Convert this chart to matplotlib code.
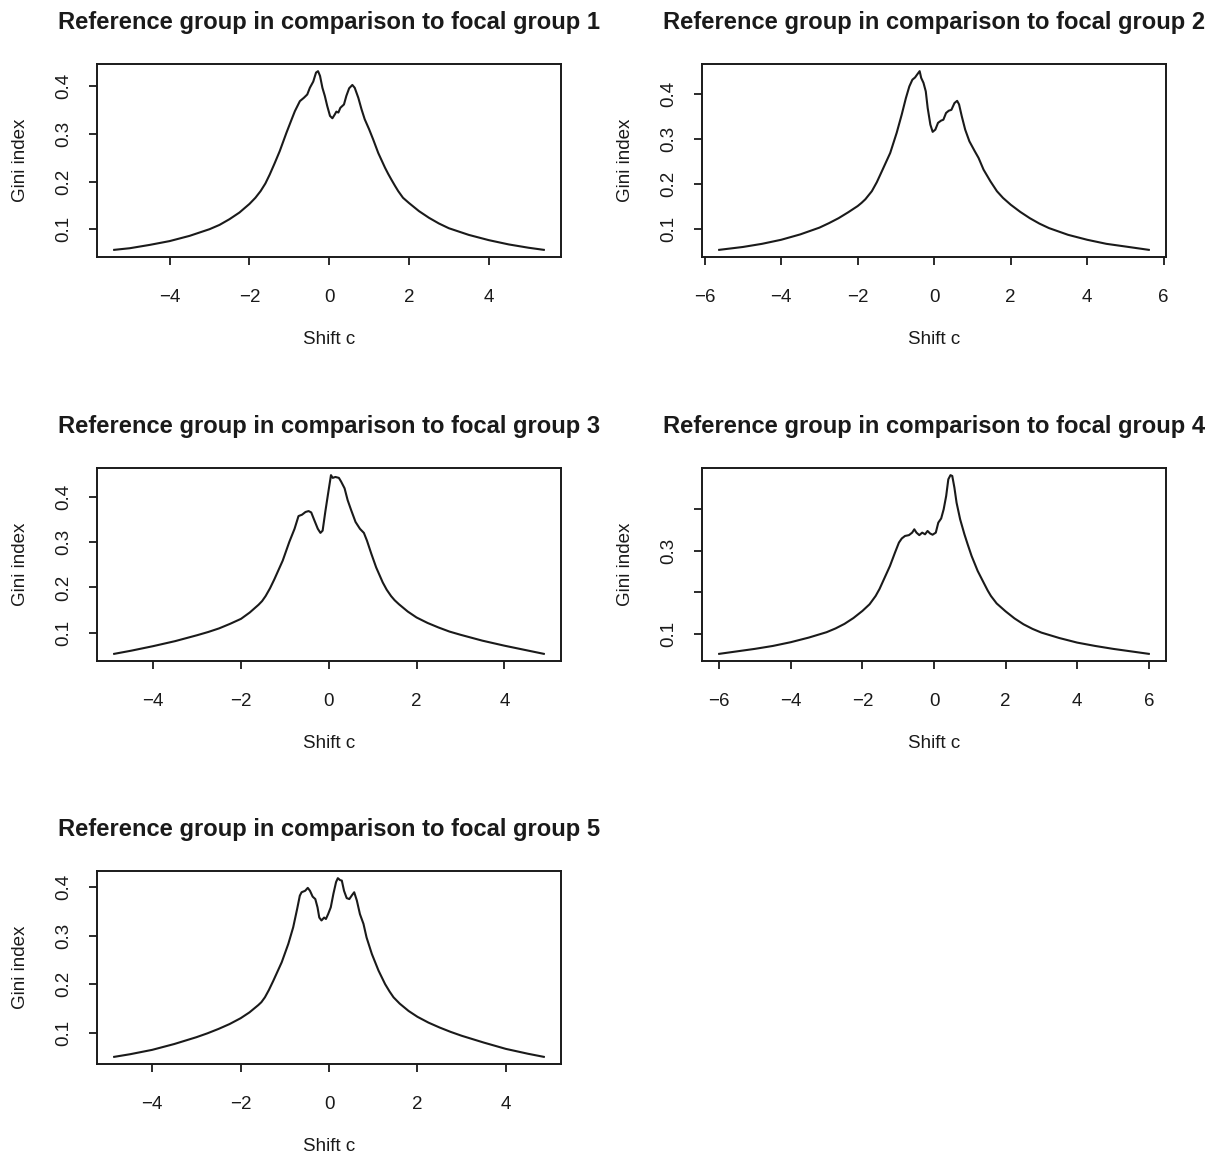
import numpy as np
import matplotlib
matplotlib.use("Agg")
import matplotlib.pyplot as plt

plt.rcParams["font.family"] = ["Liberation Sans", "DejaVu Sans"]

# Gini index against shift c, one curve per focal group
x1 = [-5.39, -5.0, -4.5, -4.0, -3.5, -3.0, -2.75, -2.5, -2.25, -2.0, -1.85, -1.72, -1.6,
      -1.49, -1.37, -1.24, -1.07, -0.94, -0.86, -0.735, -0.635, -0.55, -0.485, -0.40, -0.33,
      -0.28, -0.23, -0.17, -0.11, -0.05, 0.02, 0.08, 0.14, 0.18, 0.23, 0.28, 0.37,
      0.43, 0.50, 0.58, 0.64, 0.73, 0.81, 0.89, 1.00, 1.10, 1.23, 1.40, 1.48, 1.56, 1.65, 1.73,
      1.85, 2.0, 2.25, 2.5, 2.75, 3.0, 3.5, 4.0, 4.5, 5.0, 5.38]
y1 = [0.0566, 0.060, 0.067, 0.075, 0.086, 0.100, 0.109, 0.121, 0.135, 0.153, 0.166, 0.180, 0.196,
      0.215, 0.238, 0.264, 0.303, 0.331, 0.348, 0.369, 0.376, 0.383, 0.397, 0.410, 0.429,
      0.432, 0.422, 0.397, 0.380, 0.359, 0.338, 0.333, 0.341, 0.347, 0.345, 0.355, 0.362,
      0.380, 0.396, 0.403, 0.397, 0.376, 0.352, 0.331, 0.310, 0.289, 0.260, 0.229, 0.216, 0.204, 0.191, 0.180,
      0.166, 0.155, 0.138, 0.124, 0.112, 0.102, 0.088, 0.077, 0.068, 0.061, 0.0566]

x2 = [-5.62, -5.0, -4.5, -4.0, -3.5, -3.0, -2.75, -2.5, -2.25, -2.0, -1.9, -1.8, -1.63, -1.5,
      -1.37, -1.15, -0.98, -0.85, -0.74, -0.65, -0.57, -0.50, -0.45, -0.38, -0.34,
      -0.28, -0.22, -0.17, -0.10, -0.04, 0.03, 0.10, 0.18, 0.24, 0.31, 0.38, 0.45,
      0.53, 0.60, 0.65, 0.72, 0.81, 0.92, 1.06, 1.16, 1.29, 1.47, 1.64,
      1.8, 2.0, 2.25, 2.5, 2.75, 3.0, 3.5, 4.0, 4.5, 5.0, 5.61]
y2 = [0.0526, 0.059, 0.066, 0.075, 0.087, 0.102, 0.112, 0.123, 0.136, 0.150, 0.157, 0.165, 0.183, 0.203,
      0.227, 0.268, 0.313, 0.353, 0.390, 0.416, 0.431, 0.436, 0.442, 0.450, 0.435,
      0.424, 0.405, 0.368, 0.331, 0.315, 0.320, 0.335, 0.340, 0.342, 0.357, 0.362, 0.364,
      0.379, 0.384, 0.376, 0.350, 0.320, 0.294, 0.272, 0.257, 0.231, 0.205, 0.183,
      0.168, 0.153, 0.137, 0.123, 0.111, 0.101, 0.086, 0.075, 0.066, 0.060, 0.0526]

x3 = [-4.89, -4.5, -4.0, -3.5, -3.0, -2.75, -2.5, -2.25, -2.0, -1.8, -1.6, -1.52, -1.44, -1.34,
      -1.24, -1.05, -0.90, -0.78, -0.69, -0.61, -0.53, -0.46, -0.40, -0.33, -0.25,
      -0.19, -0.14, -0.08, -0.01, 0.05, 0.09, 0.15, 0.23, 0.28, 0.36, 0.43, 0.51,
      0.61, 0.71, 0.80, 0.87, 0.97, 1.08, 1.23, 1.32, 1.42, 1.5,
      1.6, 1.8, 2.0, 2.25, 2.5, 2.75, 3.0, 3.5, 4.0, 4.5, 4.9]
y3 = [0.054, 0.061, 0.071, 0.082, 0.095, 0.102, 0.110, 0.120, 0.131, 0.145, 0.162, 0.170, 0.181, 0.198,
      0.218, 0.259, 0.300, 0.329, 0.357, 0.360, 0.366, 0.368, 0.365, 0.348, 0.329,
      0.320, 0.325, 0.366, 0.410, 0.447, 0.441, 0.443, 0.441, 0.433, 0.418, 0.392, 0.370,
      0.344, 0.329, 0.320, 0.303, 0.274, 0.244, 0.211, 0.195, 0.181, 0.172,
      0.163, 0.147, 0.134, 0.122, 0.112, 0.103, 0.096, 0.083, 0.072, 0.062, 0.054]

x4 = [-6.0, -5.5, -5.0, -4.5, -4.0, -3.5, -3.0, -2.75, -2.5, -2.25, -2.0, -1.8, -1.63, -1.52,
      -1.42, -1.23, -1.09, -0.98, -0.90, -0.81, -0.70, -0.61, -0.55, -0.49, -0.41,
      -0.33, -0.25, -0.18, -0.11, -0.04, 0.05, 0.12, 0.20, 0.27, 0.34, 0.40, 0.46,
      0.51, 0.57, 0.63, 0.73, 0.85, 0.94, 1.05, 1.22, 1.41, 1.5, 1.59,
      1.75, 2.0, 2.25, 2.5, 2.75, 3.0, 3.5, 4.0, 4.5, 5.0, 5.5, 6.0]
y4 = [0.052, 0.058, 0.064, 0.071, 0.080, 0.091, 0.104, 0.113, 0.124, 0.138, 0.155, 0.171, 0.191, 0.208,
      0.227, 0.263, 0.295, 0.319, 0.329, 0.335, 0.337, 0.343, 0.351, 0.343, 0.337,
      0.343, 0.339, 0.347, 0.341, 0.338, 0.343, 0.367, 0.377, 0.399, 0.431, 0.471, 0.481,
      0.479, 0.451, 0.415, 0.375, 0.339, 0.315, 0.287, 0.251, 0.219, 0.204, 0.191,
      0.173, 0.154, 0.137, 0.123, 0.112, 0.103, 0.090, 0.079, 0.071, 0.064, 0.058, 0.052]

x5 = [-4.86, -4.5, -4.0, -3.5, -3.0, -2.75, -2.5, -2.25, -2.0, -1.8, -1.6, -1.53, -1.45, -1.36,
      -1.26, -1.07, -0.92, -0.81, -0.72, -0.66, -0.62, -0.54, -0.48, -0.43, -0.37,
      -0.31, -0.26, -0.22, -0.17, -0.11, -0.07, -0.02, 0.04, 0.10, 0.16, 0.20, 0.25,
      0.29, 0.34, 0.40, 0.46, 0.52, 0.57, 0.63, 0.70, 0.78, 0.85, 0.97, 1.12, 1.27, 1.37, 1.46,
      1.6, 1.8, 2.0, 2.25, 2.5, 2.75, 3.0, 3.5, 4.0, 4.5, 4.86]
y5 = [0.0506, 0.056, 0.065, 0.077, 0.091, 0.099, 0.108, 0.118, 0.130, 0.142, 0.157, 0.163, 0.173, 0.188,
      0.207, 0.245, 0.283, 0.317, 0.355, 0.382, 0.389, 0.392, 0.398, 0.392, 0.380,
      0.375, 0.358, 0.337, 0.331, 0.337, 0.334, 0.344, 0.358, 0.386, 0.410, 0.418, 0.414,
      0.413, 0.392, 0.377, 0.375, 0.383, 0.389, 0.372, 0.344, 0.324, 0.296, 0.262, 0.228, 0.200, 0.185, 0.173,
      0.160, 0.145, 0.133, 0.121, 0.111, 0.102, 0.094, 0.080, 0.067, 0.057, 0.0506]

shifts = [x1, x2, x3, x4, x5]
ginis = [y1, y2, y3, y4, y5]
groups = [1, 2, 3, 4, 5]

xticks_narrow = [-4, -2, 0, 2, 4]
xticks_wide = [-6, -4, -2, 0, 2, 4, 6]
panel_xticks = [xticks_narrow, xticks_wide, xticks_narrow, xticks_wide, xticks_narrow]
yticks = [0.1, 0.2, 0.3, 0.4]
ytick_labels = [["0.1", "0.2", "0.3", "0.4"]] * 3 + [["0.1", "", "0.3", ""]] + [["0.1", "0.2", "0.3", "0.4"]]

W, H = 1227, 1157
fig = plt.figure(figsize=(W / 100, H / 100), dpi=100)

# plot boxes in pixels: left, top, right, bottom
boxes = [(97, 64, 561, 257), (702, 64, 1166, 257),
         (97, 468, 561, 661), (702, 468, 1166, 661),
         (97, 871, 561, 1064)]

fs = 13.5
ink = "#1a1a1a"
for i in range(5):
    l, t, r, b = boxes[i]
    ax = fig.add_axes([l / W, 1 - b / H, (r - l) / W, (b - t) / H])
    ax.plot(shifts[i], ginis[i], color=ink, lw=1.5)
    ax.margins(x=0.04, y=0.04)
    ax.set_xticks(panel_xticks[i])
    ax.set_yticks(yticks)
    ax.set_yticklabels(ytick_labels[i], rotation=90, va="center")
    for s in ax.spines.values():
        s.set_linewidth(1.4)
        s.set_color(ink)
    ax.tick_params(axis="both", length=6, width=1.3, color=ink, labelsize=fs, labelcolor=ink)
    ax.tick_params(axis="x", pad=17.3)
    ax.tick_params(axis="y", pad=12)
    ax.set_xlabel("Shift c", fontsize=fs, color=ink, labelpad=17.7)
    ax.set_ylabel("Gini index", fontsize=fs, color=ink, labelpad=19)
    ax.set_title("Reference group in comparison to focal group %d" % groups[i],
                 fontsize=17.1, fontweight="bold", color=ink, pad=25.5)

fig.savefig("out.png", dpi=100, facecolor="white")
